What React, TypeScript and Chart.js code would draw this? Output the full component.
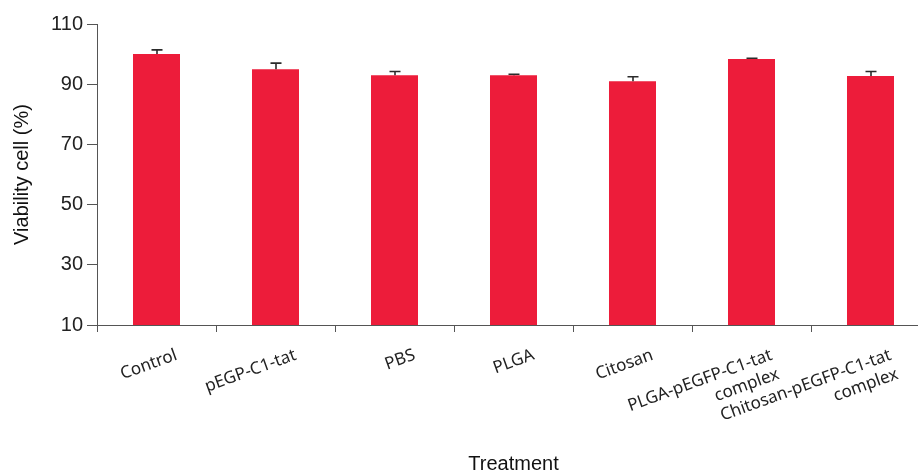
import React, { useEffect, useRef } from "react";
import { Chart, registerables } from "chart.js";

Chart.register(...registerables);

const categories: string[][] = [
  ["Control"],
  ["pEGP-C1-tat"],
  ["PBS"],
  ["PLGA"],
  ["Citosan"],
  ["PLGA-pEGFP-C1-tat", "complex"],
  ["Chitosan-pEGFP-C1-tat", "complex"],
];
const viability = [100, 95, 93, 93, 91, 98.4, 92.7];
const errors = [1.4, 2.0, 1.2, 0.3, 1.5, 0.2, 1.5];
const yTicks = [10, 30, 50, 70, 90, 110];

export default function App() {
  const ref = useRef<HTMLCanvasElement>(null);

  useEffect(() => {
    if (!ref.current) return;
    const errorBars = {
      id: "errorBars",
      afterDatasetsDraw(chart: any) {
        const { ctx } = chart;
        const y = chart.scales.y;
        const meta = chart.getDatasetMeta(0);
        ctx.save();
        ctx.strokeStyle = "#2b2b2b";
        ctx.lineWidth = 1.6;
        meta.data.forEach((bar: any, i: number) => {
          const cx = Math.round(bar.x);
          const top = y.getPixelForValue(viability[i]);
          const cap = y.getPixelForValue(viability[i] + errors[i]);
          ctx.beginPath();
          ctx.moveTo(cx, top);
          ctx.lineTo(cx, cap);
          ctx.moveTo(cx - 5.5, cap);
          ctx.lineTo(cx + 5.5, cap);
          ctx.stroke();
        });
        ctx.restore();
      },
    };

    const chart = new Chart(ref.current, {
      type: "bar",
      data: {
        labels: categories,
        datasets: [
          {
            data: viability,
            backgroundColor: "#ED1C3A",
            barPercentage: 0.395,
            categoryPercentage: 1,
          },
        ],
      },
      options: {
        responsive: false,
        animation: false,
        layout: { padding: { top: 24, left: 0, right: 2, bottom: 0 } },
        plugins: {
          legend: { display: false },
          tooltip: { enabled: false },
        },
        scales: {
          x: {
            grid: {
              drawOnChartArea: false,
              tickLength: 7,
              color: "#555",
              offset: true,
            },
            border: { color: "#555", width: 1 },
            ticks: {
              autoSkip: false,
              minRotation: 20,
              maxRotation: 20,
              labelOffset: 20,
              padding: 13,
              color: "#222",
              font: { family: "Noto Sans", size: 17 },
            },
            title: {
              display: true,
              text: "Treatment",
              color: "#111",
              font: { family: "Liberation Sans", size: 20 },
              padding: { top: 0, bottom: 0 },
            },
            afterFit: (s: any) => {
              s.height = 151;
            },
          },
          y: {
            min: 10,
            max: 110,
            afterBuildTicks: (s: any) => {
              s.ticks = yTicks.map((v) => ({ value: v }));
            },
            grid: {
              drawOnChartArea: false,
              tickLength: 10,
              color: "#555",
            },
            border: { color: "#555", width: 1 },
            ticks: {
              padding: 4,
              color: "#222",
              font: { family: "Liberation Sans", size: 20 },
            },
            title: {
              display: true,
              text: "Viability cell (%)",
              color: "#111",
              font: { family: "Liberation Sans", size: 20 },
              padding: { top: 10, bottom: 0 },
            },
            afterFit: (s: any) => {
              s.width = 97;
            },
          },
        },
      },
      plugins: [errorBars],
    });
    return () => chart.destroy();
  }, []);

  return (
    <div
      style={{
        position: "fixed",
        top: 0,
        left: 0,
        width: 918,
        height: 476,
        overflow: "hidden",
        background: "#fff",
      }}
    >
      <canvas
        ref={ref}
        width={932}
        height={476}
        style={{ display: "block", width: 932, height: 476 }}
      />
    </div>
  );
}
